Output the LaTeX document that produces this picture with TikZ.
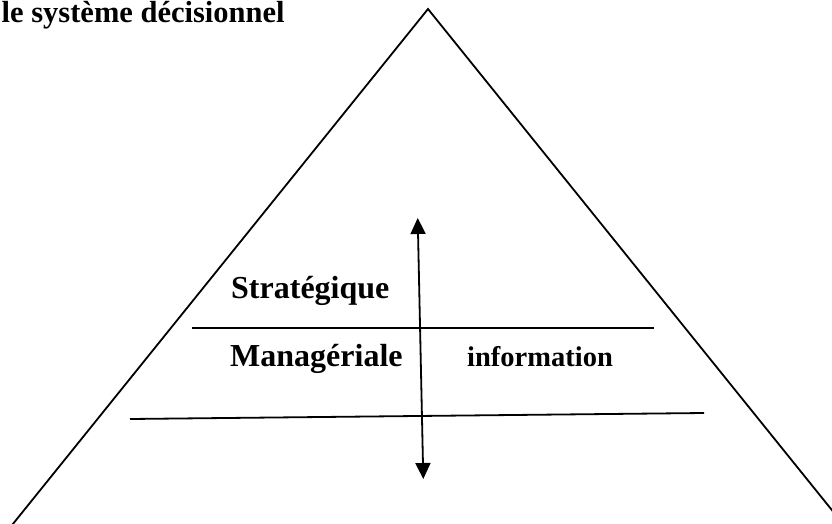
\documentclass[tikz,border=0pt]{standalone}
\usepackage{fontspec}
\setmainfont{Liberation Serif}
\usetikzlibrary{arrows.meta}
\begin{document}
\begin{tikzpicture}[x=1pt,y=-1pt,
  edge/.style={line width=1.8pt,black},
  flow/.style={edge,{Triangle[length=16pt,width=15pt]}-{Triangle[length=16pt,width=15pt]}},
  lbl/.style={inner sep=0pt,anchor=base west,font=\bfseries}]
\useasboundingbox (0,0) rectangle (832,524);
\clip (0,0) rectangle (832,524);
% pyramid outline
\coordinate (apex) at (428,9);
\coordinate (bl) at (0,540);
\coordinate (br) at (856,540);
\draw[edge,line join=miter] (bl) -- (apex) -- (br);
% level separators
\coordinate (s1a) at (192,328);
\coordinate (s1b) at (654,328);
\coordinate (s2a) at (130,419);
\coordinate (s2b) at (704,413);
\draw[edge] (s1a) -- (s1b);
\draw[edge] (s2a) -- (s2b);
% information flow
\coordinate (up) at (417.7,218);
\coordinate (down) at (423.3,479);
\draw[flow] (up) -- (down);
% labels
\node[lbl,font=\bfseries\fontsize{30.5}{30.5}\selectfont] (title) at (1.5,22.5) {le système décisionnel};
\node[lbl,font=\bfseries\fontsize{32}{32}\selectfont] (strat) at (231,298) {Stratégique};
\node[lbl,font=\bfseries\fontsize{32}{32}\selectfont] (manag) at (230,366) {Managériale};
\node[lbl,font=\bfseries\fontsize{28.5}{28.5}\selectfont] (info) at (467,366) {information};
\end{tikzpicture}
\end{document}
